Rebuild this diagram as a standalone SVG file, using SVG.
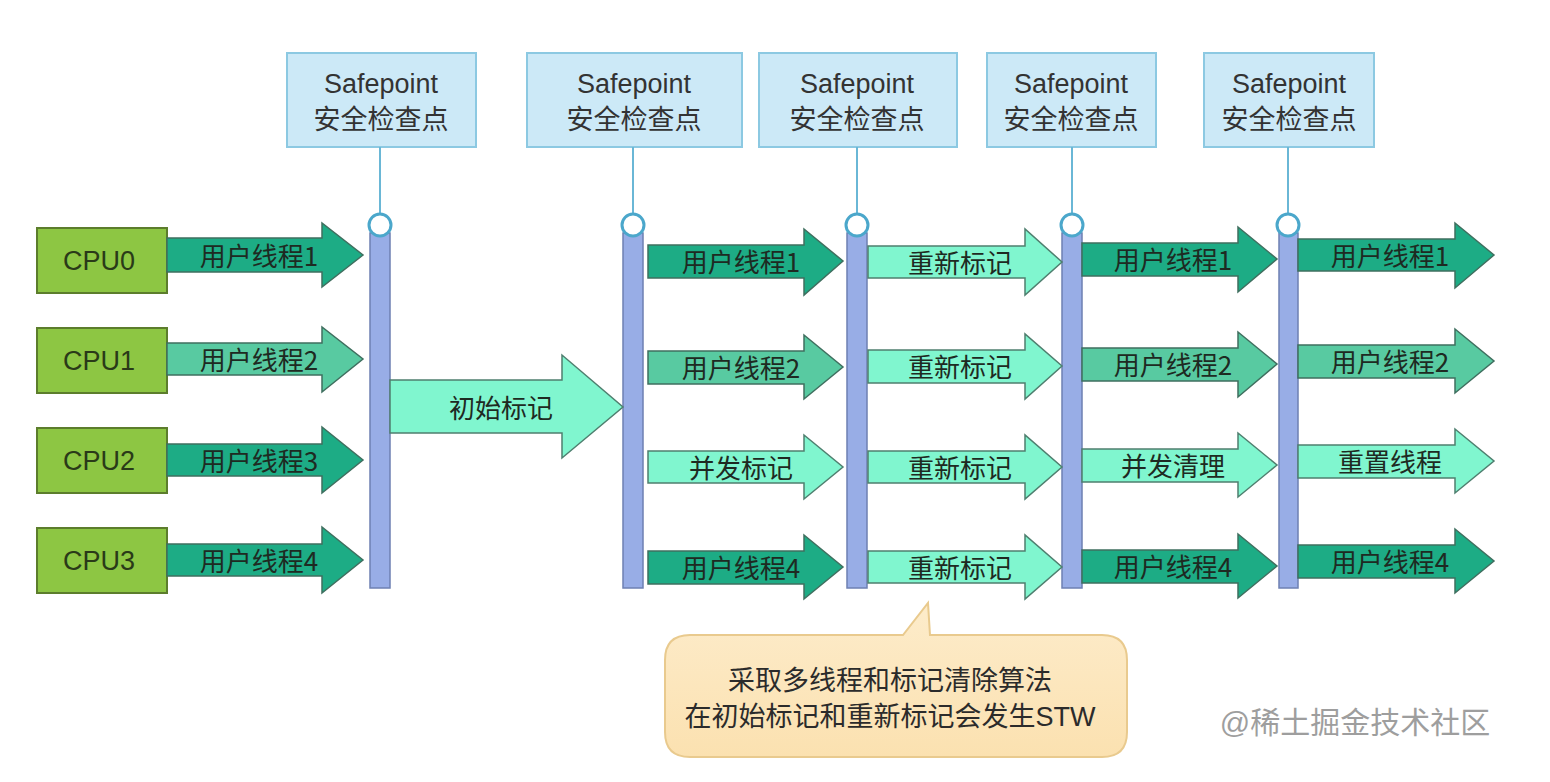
<svg xmlns="http://www.w3.org/2000/svg" width="1550" height="782" viewBox="0 0 1550 782">
<defs>
<style>
.sp{fill:#cce9f7;stroke:#8cc9e2;stroke-width:2}
.spt{font-family:"Liberation Sans","Noto Sans CJK SC",sans-serif;font-size:27px;fill:#333;text-anchor:middle}
.cpu{fill:#8dc643;stroke:#5c7d2c;stroke-width:2}
.cput{font-family:"Liberation Sans",sans-serif;font-size:27px;fill:#2a3a18;text-anchor:middle}
.bar{fill:#98ade6;stroke:#6e80b2;stroke-width:1.5}
.pin{fill:#fff;stroke:#4ba7cb;stroke-width:3}
.stem{stroke:#6ab7d6;stroke-width:2;fill:none}
.dk{fill:#1dac85;stroke:#3f6f5f;stroke-width:1.5}
.md{fill:#58caa1;stroke:#3f6f5f;stroke-width:1.5}
.lt{fill:#80f6cf;stroke:#4f7f6f;stroke-width:1.5}
.at{font-family:"Noto Sans CJK SC","Liberation Sans",sans-serif;font-size:26px;fill:#1e2a22;text-anchor:middle}
.note{font-family:"Liberation Sans","Noto Sans CJK SC",sans-serif;font-size:27px;fill:#2b2b2b;text-anchor:middle}
</style>
<linearGradient id="cg" x1="0" y1="0" x2="0" y2="1">
<stop offset="0" stop-color="#fdeccb"/>
<stop offset="1" stop-color="#fbe1b0"/>
</linearGradient>
</defs>
<rect width="1550" height="782" fill="#fff"/>

<g id="safepoints">
<g id="sp1"><rect class="sp" x="287" y="53" width="189" height="94"/><text class="spt" x="381" y="93">Safepoint</text><text class="spt" x="381" y="129">安全检查点</text></g>
<g id="sp2"><rect class="sp" x="527" y="53" width="215" height="94"/><text class="spt" x="634" y="93">Safepoint</text><text class="spt" x="634" y="129">安全检查点</text></g>
<g id="sp3"><rect class="sp" x="759" y="53" width="198" height="94"/><text class="spt" x="857" y="93">Safepoint</text><text class="spt" x="857" y="129">安全检查点</text></g>
<g id="sp4"><rect class="sp" x="987" y="53" width="169" height="94"/><text class="spt" x="1071" y="93">Safepoint</text><text class="spt" x="1071" y="129">安全检查点</text></g>
<g id="sp5"><rect class="sp" x="1204" y="53" width="170" height="94"/><text class="spt" x="1289" y="93">Safepoint</text><text class="spt" x="1289" y="129">安全检查点</text></g>
</g>

<g id="connectors">
<line class="stem" x1="380" y1="147" x2="380" y2="214"/>
<line class="stem" x1="633" y1="147" x2="633" y2="214"/>
<line class="stem" x1="857" y1="147" x2="857" y2="214"/>
<line class="stem" x1="1072" y1="147" x2="1072" y2="214"/>
<line class="stem" x1="1288" y1="147" x2="1288" y2="214"/>
</g>

<g id="bars">
<g id="bar1"><rect class="bar" x="370" y="233" width="20" height="355"/><circle class="pin" cx="380" cy="225" r="11"/></g>
<g id="bar2"><rect class="bar" x="623" y="233" width="20" height="355"/><circle class="pin" cx="633" cy="225" r="11"/></g>
<g id="bar3"><rect class="bar" x="847" y="233" width="20" height="355"/><circle class="pin" cx="857" cy="225" r="11"/></g>
<g id="bar4"><rect class="bar" x="1062" y="233" width="20" height="355"/><circle class="pin" cx="1072" cy="225" r="11"/></g>
<g id="bar5"><rect class="bar" x="1279" y="233" width="19" height="355"/><circle class="pin" cx="1288" cy="225" r="11"/></g>
</g>

<g id="cpus">
<g id="cpu0"><rect class="cpu" x="37" y="228" width="130" height="65"/><text class="cput" x="99" y="270">CPU0</text></g>
<g id="cpu1"><rect class="cpu" x="37" y="328" width="130" height="65"/><text class="cput" x="99" y="370">CPU1</text></g>
<g id="cpu2"><rect class="cpu" x="37" y="428" width="130" height="65"/><text class="cput" x="99" y="470">CPU2</text></g>
<g id="cpu3"><rect class="cpu" x="37" y="528" width="130" height="65"/><text class="cput" x="99" y="570">CPU3</text></g>
</g>

<g id="stage1">
<g><path class="dk" d="M167 238H322V223L363 255L322 287V272H167Z"/><text class="at" x="259" y="266">用户线程1</text></g>
<g><path class="md" d="M167 343H322V327L363 359L322 392V375H167Z"/><text class="at" x="259" y="370">用户线程2</text></g>
<g><path class="dk" d="M167 444H322V427L363 460L322 493V476H167Z"/><text class="at" x="259" y="471">用户线程3</text></g>
<g><path class="dk" d="M167 544H322V527L363 560L322 593V576H167Z"/><text class="at" x="259" y="571">用户线程4</text></g>
</g>

<g id="initial-mark"><path class="lt" d="M390 380H562V355L623 407L562 458V433H390Z"/><text class="at" x="501" y="418">初始标记</text></g>

<g id="stage2">
<g><path class="dk" d="M648 245H804V229L843 261L804 295V278H648Z"/><text class="at" x="741" y="272">用户线程1</text></g>
<g><path class="md" d="M648 351H804V335L843 367L804 399V384H648Z"/><text class="at" x="741" y="378">用户线程2</text></g>
<g><path class="lt" d="M648 451H804V435L843 467L804 499V483H648Z"/><text class="at" x="741" y="478">并发标记</text></g>
<g><path class="dk" d="M648 551H804V535L843 567L804 599V584H648Z"/><text class="at" x="741" y="578">用户线程4</text></g>
</g>

<g id="stage3">
<g><path class="lt" d="M868 246H1025V229L1062 262L1025 295V278H868Z"/><text class="at" x="960" y="273">重新标记</text></g>
<g><path class="lt" d="M868 350H1025V334L1062 366L1025 399V383H868Z"/><text class="at" x="960" y="377">重新标记</text></g>
<g><path class="lt" d="M868 451H1025V435L1062 467L1025 499V483H868Z"/><text class="at" x="960" y="478">重新标记</text></g>
<g><path class="lt" d="M868 551H1025V535L1062 567L1025 599V583H868Z"/><text class="at" x="960" y="578">重新标记</text></g>
</g>

<g id="stage4">
<g><path class="dk" d="M1082 243H1238V227L1277 259L1238 292V276H1082Z"/><text class="at" x="1173" y="270">用户线程1</text></g>
<g><path class="md" d="M1082 348H1238V332L1277 364L1238 397V381H1082Z"/><text class="at" x="1173" y="375">用户线程2</text></g>
<g><path class="lt" d="M1082 449H1238V433L1277 465L1238 497V482H1082Z"/><text class="at" x="1173" y="476">并发清理</text></g>
<g><path class="dk" d="M1082 550H1238V534L1277 566L1238 598V583H1082Z"/><text class="at" x="1173" y="577">用户线程4</text></g>
</g>

<g id="stage5">
<g><path class="dk" d="M1298 239H1455V223L1494 255L1455 288V271H1298Z"/><text class="at" x="1390" y="266">用户线程1</text></g>
<g><path class="md" d="M1298 345H1455V329L1494 361L1455 393V378H1298Z"/><text class="at" x="1390" y="372">用户线程2</text></g>
<g><path class="lt" d="M1298 445H1455V429L1494 461L1455 493V478H1298Z"/><text class="at" x="1390" y="472">重置线程</text></g>
<g><path class="dk" d="M1298 545H1455V529L1494 561L1455 593V578H1298Z"/><text class="at" x="1390" y="572">用户线程4</text></g>
</g>

<g id="callout">
<path d="M690 635H903L928 603L930 635H1102Q1127 635 1127 660V732Q1127 757 1102 757H690Q665 757 665 732V660Q665 635 690 635Z" fill="url(#cg)" stroke="#e9ca8e" stroke-width="2"/>
<text class="note" x="890" y="690">采取多线程和标记清除算法</text>
<text class="note" x="890" y="726">在初始标记和重新标记会发生STW</text>
</g>

<text x="1355" y="733" font-family="Liberation Sans,Noto Sans CJK SC,sans-serif" font-size="30" fill="#9e9e9e" text-anchor="middle">@稀土掘金技术社区</text>
</svg>
